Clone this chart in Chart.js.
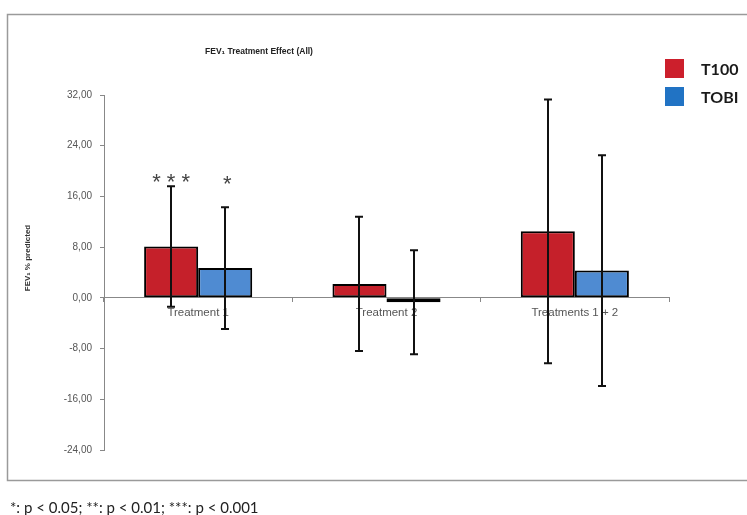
<!DOCTYPE html>
<html lang="en">
<head>
<meta charset="UTF-8">
<title>FEV1 Treatment Effect</title>
<script src="https://cdn.jsdelivr.net/npm/chart.js"></script>
<style>
  body { margin: 0; background: #ffffff; }
  #wrap { position: relative; width: 747px; height: 515px; }
</style>
</head>
<body>
<div id="wrap">
  <canvas id="fevChart" width="747" height="515"></canvas>
</div>
<script>
// data
const categories = ['Treatment 1', 'Treatment 2', 'Treatments 1 + 2'];
const t100Values = [8.1, 2.2, 10.5];
const tobiValues = [4.7, -0.7, 4.3];
const t100Errors = [9.5, 10.6, 20.8];
const tobiErrors = [9.6, 8.2, 18.2];
const t100Sig = ['* * *', '', ''];
const tobiSig = ['*', '', ''];
const yMin = -24, yMax = 32, yStep = 8;

const errors = [t100Errors, tobiErrors];
const sigs = [t100Sig, tobiSig];

// error bars, significance stars and the rest of the decoration
const extras = {
  id: 'extras',
  afterDatasetsDraw(chart) {
    const c = chart.ctx;
    const y = chart.scales.y;
    const ds = chart.data.datasets;
    c.save();
    c.strokeStyle = '#111';
    c.lineWidth = 2;
    ds.forEach((d, di) => {
      chart.getDatasetMeta(di).data.forEach((bar, i) => {
        const v = d.data[i], e = errors[di][i];
        const top = y.getPixelForValue(v + e);
        const bot = y.getPixelForValue(v - e);
        const x = Math.round(bar.x);
        c.beginPath();
        c.moveTo(x, top); c.lineTo(x, bot);
        c.moveTo(x - 4, top); c.lineTo(x + 4, top);
        c.moveTo(x - 4, bot); c.lineTo(x + 4, bot);
        c.stroke();
      });
    });
    // stars sit just above the highest error bar of the group
    c.fillStyle = '#444';
    c.font = '22px "Liberation Sans"';
    c.textAlign = 'center';
    c.textBaseline = 'alphabetic';
    categories.forEach((cat, i) => {
      const groupTop = Math.min(...ds.map((d, di) => y.getPixelForValue(d.data[i] + errors[di][i])));
      ds.forEach((d, di) => {
        if (!sigs[di][i]) return;
        const bar = chart.getDatasetMeta(di).data[i];
        const cy = groupTop - 10 + di * 2;
        c.fillText(sigs[di][i], bar.x + (di ? 2 : 0), cy + 12.5);
      });
    });
    c.restore();
  },
  afterDraw(chart) {
    const c = chart.ctx;
    c.save();
    // frame
    c.strokeStyle = '#9a9a9a';
    c.lineWidth = 1.5;
    c.strokeRect(7.5, 14.5, 760, 466);
    // title
    c.fillStyle = '#222';
    c.font = 'bold 8.5px "Liberation Sans"';
    c.textAlign = 'center';
    c.textBaseline = 'middle';
    c.fillText('FEV\u2081 Treatment Effect (All)', 259, 52);
    // y axis title
    c.save();
    c.translate(28, 258);
    c.rotate(-Math.PI / 2);
    c.font = 'bold 8px "Liberation Sans"';
    c.fillStyle = '#333';
    c.fillText('FEV\u2081 % predicted', 0, 0);
    c.restore();
    // legend
    const items = [['T100', '#cc1f2c', 68.5], ['TOBI', '#2173c4', 96.5]];
    items.forEach(([label, col, cy]) => {
      c.fillStyle = col;
      c.fillRect(665, cy - 9.5, 19, 19);
      c.fillStyle = '#1a1a1a';
      c.font = 'bold 16px Lato';
      c.textAlign = 'left';
      c.fillText(label, 701, cy + 1);
    });
    // footnote
    c.fillStyle = '#222';
    c.font = '15px Lato';
    c.textAlign = 'left';
    c.fillText('*: p < 0.05; **: p < 0.01; ***: p < 0.001', 10, 508);
    c.restore();
  }
};

new Chart(document.getElementById('fevChart'), {
  type: 'bar',
  data: {
    labels: categories,
    datasets: [
      {
        label: 'T100',
        data: t100Values,
        backgroundColor: '#c5202a',
        borderColor: '#000',
        borderWidth: 2,
        borderSkipped: false
      },
      {
        label: 'TOBI',
        data: tobiValues,
        backgroundColor: '#4f8bd2',
        borderColor: '#000',
        borderWidth: 2,
        borderSkipped: false
      }
    ]
  },
  options: {
    responsive: false,
    animation: false,
    categoryPercentage: 0.574,
    barPercentage: 1.0,
    layout: { padding: { left: 0, top: 95, right: 78, bottom: 65 } },
    plugins: {
      legend: { display: false },
      title: { display: false },
      tooltip: { enabled: false }
    },
    scales: {
      x: {
        position: { y: 0 },
        grid: { display: true, drawOnChartArea: false, tickLength: 4, color: '#888', offset: true },
        border: { color: '#888', width: 1 },
        ticks: {
          color: '#555',
          font: { family: 'Liberation Sans', size: 11.5 },
          padding: 4
        }
      },
      y: {
        min: yMin,
        max: yMax,
        afterFit(scale) { scale.width = 104; },
        grid: { display: true, drawOnChartArea: false, tickLength: 4, color: '#888' },
        border: { color: '#888', width: 1 },
        ticks: {
          stepSize: yStep,
          color: '#555',
          font: { family: 'Liberation Sans', size: 10 },
          padding: 8,
          callback: v => v.toFixed(2).replace('.', ',')
        }
      }
    }
  },
  plugins: [extras]
});
</script>
</body>
</html>
